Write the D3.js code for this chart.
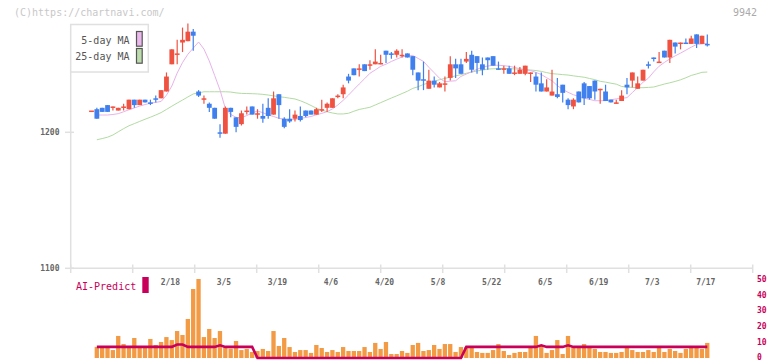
<!DOCTYPE html>
<html>
<head>
<meta charset="utf-8" />
<title>9942</title>
<script src="https://d3js.org/d3.v7.min.js"></script>
<style>
  body { margin: 0; background: #fff; }
  text { font-family: "DejaVu Sans Mono", monospace; }
</style>
</head>
<body>
<svg id="chart" width="772" height="361"></svg>
<script>
// daily candles, index 0 .. 115
var opens = [1216,1217,1218,1220,1218,1216,1219,1217,1224,1220,
  1224,1222,1225,1225,1230,1250,1257,1266,1267,1274,
  1230,1224,1221,1218,1200,1199,1218,1211,1206,1216,
  1219,1213,1212,1218,1213,1228,1210,1210,1210,1212,
  1216,1216,1213,1216,1218,1218,1226,1228,1241,1247,
  1246,1250,1249,1250,1250,1260,1258,1257,1256,1258,
  1256,1244,1239,1232,1238,1233,1235,1240,1250,1250,
  1252,1257,1256,1250,1255,1256,1247,1246,1247,1243,
  1243,1243,1243,1241,1236,1230,1227,1228,1235,1224,
  1219,1230,1236,1234,1238,1231,1230,1224,1221,1223,
  1235,1238,1232,1238,1250,1255,1252,1260,1255,1266,
  1265,1266,1265,1272,1265,1265];
var highs = [1216,1218,1218,1220,1219,1218,1221,1224,1224,1224,
  1224,1224,1227,1231,1244,1261,1268,1277,1280,1276,
  1231,1227,1222,1218,1206,1219,1218,1211,1216,1219,
  1219,1217,1221,1225,1230,1228,1211,1217,1216,1219,
  1216,1216,1218,1224,1222,1225,1228,1235,1243,1247,
  1250,1250,1253,1261,1257,1260,1259,1261,1261,1258,
  1256,1244,1252,1246,1241,1237,1241,1256,1254,1254,
  1259,1260,1256,1255,1255,1256,1252,1249,1249,1249,
  1248,1249,1244,1244,1244,1239,1246,1240,1235,1225,
  1225,1230,1237,1234,1238,1232,1235,1224,1224,1231,
  1240,1244,1241,1246,1252,1255,1259,1260,1268,1266,
  1266,1269,1271,1272,1271,1272];
var lows = [1216,1210,1215,1215,1216,1216,1216,1217,1218,1220,
  1222,1220,1222,1225,1230,1250,1250,1259,1267,1260,
  1226,1221,1215,1210,1196,1199,1211,1200,1205,1213,
  1213,1210,1207,1210,1213,1210,1203,1207,1208,1208,
  1211,1213,1213,1215,1215,1218,1225,1225,1236,1242,
  1241,1245,1246,1250,1250,1251,1254,1255,1255,1255,
  1242,1231,1231,1232,1233,1233,1230,1238,1240,1243,
  1251,1244,1243,1242,1246,1249,1246,1243,1243,1242,
  1243,1242,1237,1230,1230,1230,1227,1225,1222,1217,
  1217,1222,1220,1224,1224,1221,1223,1222,1221,1223,
  1228,1233,1232,1238,1247,1252,1251,1255,1251,1258,
  1261,1265,1265,1262,1265,1263];
var closes = [1216,1210,1215,1215,1219,1218,1219,1224,1220,1224,
  1222,1221,1224,1231,1241,1261,1258,1268,1274,1271,
  1227,1225,1218,1210,1199,1218,1215,1204,1214,1216,
  1213,1214,1210,1212,1225,1220,1204,1208,1213,1209,
  1212,1213,1217,1217,1221,1225,1227,1233,1238,1242,
  1247,1245,1250,1252,1251,1257,1257,1260,1257,1255,
  1246,1238,1238,1238,1235,1236,1236,1250,1247,1243,
  1254,1246,1251,1246,1253,1249,1246,1247,1243,1244,
  1246,1249,1244,1235,1230,1233,1230,1226,1229,1220,
  1224,1222,1225,1225,1230,1232,1223,1222,1222,1227,
  1233,1244,1236,1246,1249,1254,1252,1255,1268,1263,
  1266,1265,1269,1265,1271,1264];

var ma5 = [null,1212.7,1212.7,1212.7,1213.1,1213.7,1215.1,1216.6,1217.9,1219.3,
  1220.4,1221.4,1222.0,1222.7,1227.3,1234.0,1243.6,1251.3,1257.4,1261.9,
  1266.4,1261.2,1252.4,1241.8,1231.1,1217.5,1213.1,1211.0,1210.7,1212.3,
  1214.2,1215.7,1214.4,1212.8,1211.6,1210.3,1209.6,1209.1,1209.5,1210.1,
  1210.9,1211.6,1212.9,1213.9,1215.2,1217.2,1220.1,1223.5,1227.4,1231.5,
  1235.5,1239.4,1243.4,1245.9,1248.5,1250.1,1252.1,1253.8,1255.4,1256.2,
  1256.5,1254.3,1252.1,1247.8,1243.8,1239.7,1237.2,1237.6,1237.9,1241.1,
  1242.8,1244.6,1246.3,1247.9,1248.7,1249.3,1249.3,1249.0,1248.5,1247.7,
  1246.7,1245.9,1245.4,1244.0,1242.5,1240.1,1237.9,1234.3,1231.5,1229.4,
  1227.6,1226.4,1225.1,1224.2,1223.2,1223.2,1223.3,1223.9,1224.6,1224.9,
  1225.5,1229.2,1232.9,1236.8,1239.8,1244.5,1248.6,1251.4,1254.0,1256.2,
  1258.2,1260.4,1262.6,1264.6,1265.0,1265.4];
var ma25 = [null,1194.5,1195.4,1196.4,1198.0,1200.4,1202.7,1204.8,1206.4,1208.0,
  1209.6,1211.1,1212.7,1214.5,1216.8,1219.2,1221.5,1223.7,1226.0,1228.2,
  1229.0,1229.8,1229.8,1229.8,1229.8,1229.8,1229.6,1229.0,1228.6,1228.5,
  1228.4,1228.2,1227.9,1227.4,1226.8,1226.2,1225.7,1225.1,1224.5,1223.2,
  1221.6,1219.7,1217.7,1216.3,1215.1,1214.2,1213.5,1213.5,1214.0,1215.5,
  1216.8,1217.6,1218.4,1220.1,1221.8,1223.5,1225.2,1226.8,1228.5,1230.2,
  1232.3,1233.5,1235.2,1236.3,1237.5,1238.7,1239.6,1240.6,1241.5,1242.4,
  1243.4,1244.3,1245.1,1245.7,1246.5,1246.7,1246.8,1247.0,1246.8,1246.6,
  1246.4,1246.1,1245.8,1245.4,1244.8,1243.9,1243.1,1242.8,1242.4,1242.1,
  1241.5,1241.0,1240.5,1239.6,1238.7,1237.5,1236.9,1236.1,1235.4,1233.7,
  1233.3,1233.0,1232.8,1232.8,1233.0,1233.3,1234.4,1235.5,1236.4,1237.4,
  1238.6,1240.1,1241.8,1242.9,1244.1,1244.3];

// lower panel (0-50 scale)
var volume = [null,7,6.7,6.7,5,13.9,8.8,7.1,12.6,7,
  7,12,8.2,10.1,13.2,11.3,17,14.5,24.6,43.5,
  49.8,13.2,18.3,12.6,17,7,5.9,10.7,5,5.7,
  3.8,4.4,5.7,4.4,17,7.6,12.6,6.9,3.8,5,
  5,3.2,8.2,6.3,3.8,5,3.8,6.9,4.4,4.4,
  4.4,6.9,3.8,9.5,5.7,10.1,2.5,2.5,4.4,3.2,
  8.2,9.5,4.4,5,8.2,5.7,8.8,8.8,3.8,6.9,
  6.9,6.5,3.8,3.2,3.2,5,8.8,4.4,1.9,3.2,
  3.8,3.8,6.9,13.9,8.2,3.2,5,11.3,2.5,13.9,
  6.9,6.9,8.8,6.9,5.7,3.8,3.8,3.2,3.2,3.8,
  6.9,5,3.8,3.8,5,3.8,6.9,3.8,5.7,4.4,
  3.2,5.7,6.9,6.9,5.7,9.5];
var aiPredict = [null,7,7,7,7,7,7,7,7,7,
  7,7,7,7,7,7,8.5,8.5,7,7,
  7,7,7,7,8,7,7,7,7,7,
  7,0,0,0,0,0,0,0,0,0,
  0,0,0,0,0,0,0,0,0,0,
  0,0,0,0,0,0,0,0,0,0,
  0,0,0,0,0,0,0,0,0,0,
  7,7,7,7,7,7,7,7,7,7,
  7,7,7,7,8,7,7,7,7,8,
  7,7,7,7,7,7,7,7,7,7,
  7,7,7,7,7,7,7,7,7,7,
  7,7,7,7,7,7];

var dateLabels = ["2/18","3/5","3/19","4/6","4/20","5/8","5/22","6/5","6/19","7/3","7/17"];
var dateIndex = [15,25,35,45,55,65,75,85,95,105,115];
var priceTicks = [1100, 1200];
var aiTicks = [0, 10, 20, 30, 40, 50];

var RED = "#f05242", BLUE = "#4080ee";

var svg = d3.select("#chart");

var x = d3.scaleLinear().domain([0, opens.length - 1]).range([91.5, 707.3]);
var y = d3.scaleLinear().domain([1100, 1200]).range([268.3, 132.3]);
var yAi = d3.scaleLinear().domain([0, 50]).range([358, 278.7]);

// frame
var frame = d3.scaleLinear().domain([0, 11]).range([70.7, 752.7]);
svg.append("line").attr("x1", 70.7).attr("x2", 70.7).attr("y1", 24).attr("y2", 268.3)
  .attr("stroke", "#e0e0e0").attr("stroke-width", 1.5);
svg.append("line").attr("x1", 70.7).attr("x2", 752.7).attr("y1", 268.3).attr("y2", 268.3)
  .attr("stroke", "#e0e0e0").attr("stroke-width", 1.5);
svg.selectAll(".xt").data(d3.range(12)).enter().append("line")
  .attr("x1", function(d) { return frame(d); }).attr("x2", function(d) { return frame(d); })
  .attr("y1", 264.5).attr("y2", 273).attr("stroke", "#e0e0e0").attr("stroke-width", 1.5);

svg.selectAll(".yt").data(priceTicks).enter().append("line")
  .attr("x1", 65).attr("x2", 74).attr("y1", function(d) { return y(d); }).attr("y2", function(d) { return y(d); })
  .attr("stroke", "#e0e0e0").attr("stroke-width", 1.5);
svg.selectAll(".yl").data(priceTicks).enter().append("text")
  .attr("x", 59.5).attr("y", function(d) { return y(d) + 3; })
  .attr("text-anchor", "end").attr("font-size", 8).attr("font-weight", "bold").attr("fill", "#666")
  .text(function(d) { return d; });

svg.selectAll(".xl").data(dateIndex).enter().append("text")
  .attr("x", function(d) { return x(d) - 1.5; }).attr("y", 285)
  .attr("text-anchor", "middle").attr("font-size", 8).attr("font-weight", "bold").attr("fill", "#666")
  .text(function(d, i) { return dateLabels[i]; });

// watermark and code
svg.append("text").attr("x", 14).attr("y", 16).attr("font-size", 10).attr("fill", "#c8c8c8")
  .text("(C)https://chartnavi.com/");
svg.append("text").attr("x", 757).attr("y", 16).attr("text-anchor", "end").attr("font-size", 10)
  .attr("fill", "#aaa").text("9942");

// volume bars
var volIdx = d3.range(opens.length).filter(function(i) { return volume[i] != null; });
svg.selectAll(".vol").data(volIdx).enter().append("rect")
  .attr("x", function(i) { return x(i) - 2.2; })
  .attr("width", 4.3)
  .attr("y", function(i) { return yAi(volume[i]); })
  .attr("height", function(i) { return yAi(0) - yAi(volume[i]); })
  .attr("fill", "#f29a44");

var aiLine = d3.line()
  .defined(function(d) { return d != null; })
  .x(function(d, i) { return x(i); })
  .y(function(d) { return yAi(d); });
svg.append("path").attr("d", aiLine(aiPredict)).attr("fill", "none")
  .attr("stroke", "#c8005a").attr("stroke-width", 2.6);

svg.selectAll(".ail").data(aiTicks).enter().append("text")
  .attr("x", 757).attr("y", function(d) { return Math.min(yAi(d) + 3, 359.5); })
  .attr("font-size", 8).attr("font-weight", "bold").attr("fill", "#c8005a")
  .text(function(d) { return d; });

svg.append("text").attr("x", 76).attr("y", 289.5).attr("font-size", 10).attr("fill", "#c8005a")
  .text("AI-Predict");
svg.append("rect").attr("x", 142.3).attr("y", 277).attr("width", 6.4).attr("height", 16)
  .attr("fill", "#c8005a");

// moving averages
var maLine = d3.line()
  .defined(function(d) { return d != null; })
  .x(function(d, i) { return x(i); })
  .y(function(d) { return y(d); });
svg.append("path").attr("d", maLine(ma25)).attr("fill", "none")
  .attr("stroke", "#b2dba2").attr("stroke-width", 1);
svg.append("path").attr("d", maLine(ma5)).attr("fill", "none")
  .attr("stroke", "#e8b2ea").attr("stroke-width", 1);

// candles
var idx = d3.range(opens.length);
var candle = svg.selectAll(".candle").data(idx).enter().append("g");
candle.append("line")
  .attr("x1", function(i) { return x(i); }).attr("x2", function(i) { return x(i); })
  .attr("y1", function(i) { return y(highs[i]); }).attr("y2", function(i) { return y(lows[i]); })
  .attr("stroke", function(i) { return closes[i] >= opens[i] ? RED : BLUE; })
  .attr("stroke-width", 1.2);
candle.append("rect")
  .attr("x", function(i) { return x(i) - 2.4; })
  .attr("width", 4.8)
  .attr("y", function(i) { return y(Math.max(opens[i], closes[i])); })
  .attr("height", function(i) { return Math.max(1.5, Math.abs(y(opens[i]) - y(closes[i]))); })
  .attr("fill", function(i) { return closes[i] >= opens[i] ? RED : BLUE; });

// legend
var legend = svg.append("g");
legend.append("rect").attr("x", 70.7).attr("y", 24.5).attr("width", 77.6).attr("height", 47.5)
  .attr("fill", "#fff").attr("stroke", "#e0e0e0").attr("stroke-width", 1.5);
legend.append("text").attr("x", 129.5).attr("y", 43.5).attr("text-anchor", "end")
  .attr("font-size", 10).attr("fill", "#555").text("5-day MA");
legend.append("text").attr("x", 129.5).attr("y", 60).attr("text-anchor", "end")
  .attr("font-size", 10).attr("fill", "#555").text("25-day MA");
legend.append("rect").attr("x", 136.5).attr("y", 31.5).attr("width", 5.7).attr("height", 14.7)
  .attr("fill", "#eab8ec").attr("stroke", "#555").attr("stroke-width", 1.2);
legend.append("rect").attr("x", 136.5).attr("y", 48.5).attr("width", 5.7).attr("height", 14.7)
  .attr("fill", "#bcdcae").attr("stroke", "#555").attr("stroke-width", 1.2);
</script>
</body>
</html>
